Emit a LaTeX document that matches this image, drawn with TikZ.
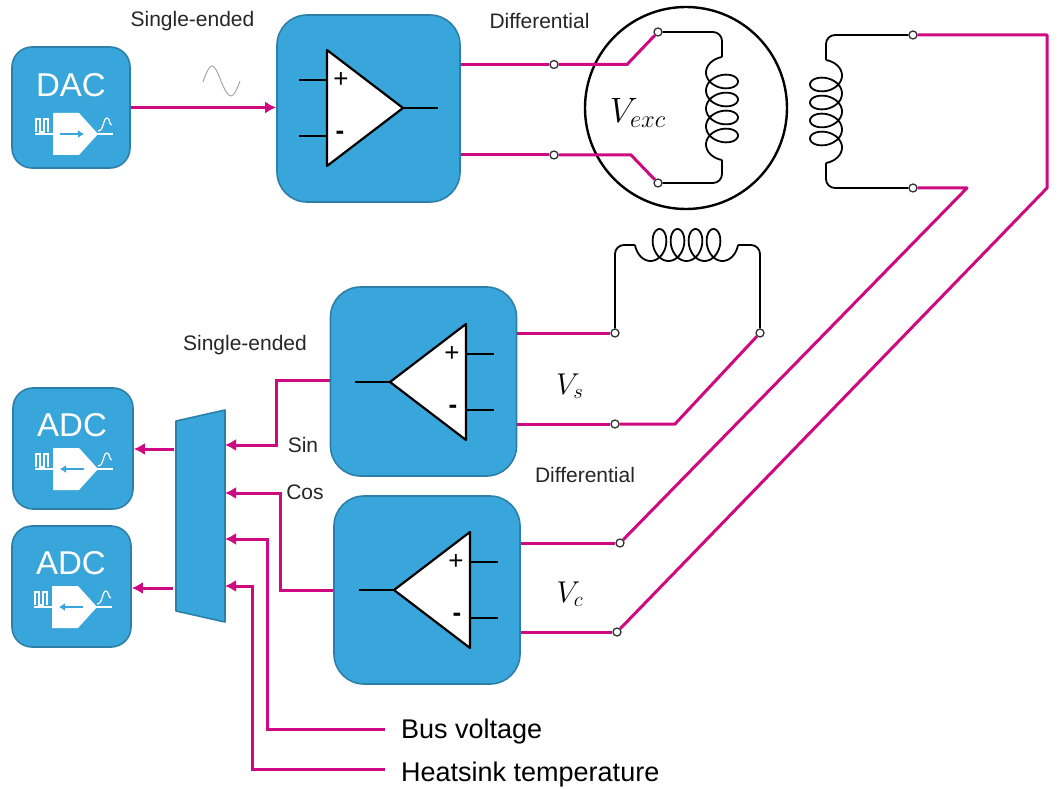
\documentclass[tikz,border=0pt]{standalone}
\usepackage{fontspec}
\setmainfont{Liberation Sans}
\usetikzlibrary{arrows.meta,calc}

\definecolor{boxblue}{HTML}{38A6DB}
\definecolor{boxedge}{HTML}{2E7FA8}
\definecolor{sigpink}{HTML}{CF0A80}

\tikzset{
    block/.style={draw=boxedge, fill=boxblue, line width=1.6pt, rounded corners=#1},
    block/.default=20pt,
    sig/.style={draw=sigpink, line width=3pt},
    sigarrow/.style={sig, -{Latex[length=11pt,width=12pt]}},
    wire/.style={draw=black, line width=1.8pt, rounded corners=9pt},
    term/.style={circle, draw=black!80, fill=white, line width=1.3pt, inner sep=0pt, minimum size=8pt},
    lbl/.style={font=\fontsize{21}{23}\selectfont, text=black!85, inner sep=0pt},
    biglbl/.style={font=\fontsize{20}{22}\selectfont, inner sep=0pt},
    longlbl/.style={anchor=base west, font=\fontsize{27}{29}\selectfont, inner sep=0pt},
    conv/.style={font=\fontsize{33}{35}\selectfont, text=white, inner sep=0pt},
    coil/.pic={
        \draw[black, line width=1.8pt] plot[smooth, samples=170, domain=270:1890]
            ({(\x-270)/20+11*(sin(\x)+1)}, {16*cos(\x)});
    },
    opamp/.pic={
        \draw[black, line width=2.2pt, fill=white, line join=round] (0,-58) -- (76,0) -- (0,58) -- cycle;
        \draw[black, line width=2pt] (-28,-28) -- (0,-28) (-28,28) -- (0,28) (76,0) -- (111,0);
        \node[font=\fontsize{26}{28}\selectfont, inner sep=0pt] (-plus) at (14,-28) {+};
        \node[font=\bfseries\fontsize{26}{28}\selectfont, inner sep=0pt] (-minus) at (13,27) {-};
    },
    converter/.pic={
        \fill[white] (0,-21) -- (26,-21) -- (45,0) -- (26,21) -- (0,21) -- cycle;
        \draw[white, line width=1.3pt] (-18,0) -- (60,0);
        \draw[white, line width=1.1pt] (-17,-2) -- (-17,-15) -- (-13,-15) -- (-13,-2) -- (-9,-2) -- (-9,-15) -- (-5,-15) -- (-5,-2);
        \draw[white, line width=1.2pt] (45,-3) .. controls (51,-3) and (50,-16) .. (54,-16) .. controls (57,-16) and (56,-9) .. (59,-9);
        \draw[boxblue, line width=2.2pt, #1] (7,0) -- (31,0);
    },
}

\begin{document}
\begin{tikzpicture}[x=1pt, y=-1pt]
    \useasboundingbox (0,0) rectangle (1061,789);

    % Blocks
    \node[block=20pt, minimum width=118pt, minimum height=121pt] (dac) at (71,107.5) {};
    \node[block=30pt, minimum width=183pt, minimum height=187pt] (drvexc) at (368.5,108.5) {};
    \node[block=30pt, minimum width=186pt, minimum height=189pt] (ampsin) at (423.5,381.5) {};
    \node[block=30pt, minimum width=186pt, minimum height=188pt] (ampcos) at (427,590) {};
    \node[block=20pt, minimum width=120pt, minimum height=121pt] (adca) at (73,448.5) {};
    \node[block=20pt, minimum width=119pt, minimum height=121pt] (adcb) at (71.5,586.5) {};
    \draw[block=0pt, line join=round] (176,421) -- (225,410) -- (225,622) -- (176,611) -- cycle;

    % Converter texts and icons
    \node[conv] (dactext) at (71,85) {DAC};
    \node[conv] (adcatext) at (72,425) {ADC};
    \node[conv] (adcbtext) at (71,563) {ADC};
    \pic at (53,134) {converter={-{Latex[length=6pt,width=8pt]}}};
    \pic at (53,469) {converter={{Latex[length=6pt,width=8pt]}-}};
    \pic at (52,607) {converter={{Latex[length=6pt,width=8pt]}-}};

    % Op-amps
    \pic (opexc) at (327,108) {opamp};
    \pic[xscale=-1] (opsin) at (466,382) {opamp};
    \pic[xscale=-1] (opcos) at (470,590) {opamp};

    % Motor
    \node[circle, draw=black, line width=2.4pt, minimum size=202pt, inner sep=0pt] (motor) at (686,108) {};
    \node[biglbl, scale=1.7] (vexc) at (638,113) {$V_{exc}$};
    \node[biglbl, scale=1.45] (vs) at (570,386) {$V_s$};
    \node[biglbl, scale=1.45] (vc) at (570,594) {$V_c$};

    % Terminals
    \node[term] (texca) at (554,64.5) {};
    \node[term] (texcb) at (554,155) {};
    \node[term] (tcoila) at (658,32) {};
    \node[term] (tcoilb) at (658,183) {};
    \node[term] (tcosa) at (913,35) {};
    \node[term] (tcosb) at (913,188) {};
    \node[term] (tsina) at (615,333) {};
    \node[term] (tsinb) at (760,333) {};
    \node[term] (tsinc) at (615,424) {};
    \node[term] (tcosc) at (620,543) {};
    \node[term] (tcosd) at (617,632) {};

    % Coils
    \coordinate (exctop) at (722,57);
    \coordinate (excbot) at (722,160);
    \coordinate (costop) at (826,60);
    \coordinate (cosbot) at (826,163);
    \coordinate (sinleft) at (635,245);
    \coordinate (sinright) at (738,245);
    \pic[rotate=-90] at (exctop) {coil};
    \pic[rotate=-90, yscale=-1] at (costop) {coil};
    \pic at (sinleft) {coil};
    \draw[wire] (tcoila) -| (exctop);
    \draw[wire] (tcoilb) -| (excbot);
    \draw[wire] (tcosa) -| (costop);
    \draw[wire] (tcosb) -| (cosbot);
    \draw[wire] (tsina) |- (sinleft);
    \draw[wire] (tsinb) |- (sinright);

    % Excitation path
    \draw[sigarrow] (dac.east) -- (dac.east -| drvexc.west);
    \draw[gray!70, line width=1pt] (203,82) sin (212,66) cos (221,81) sin (231,96) cos (240,81);
    \coordinate (kneea) at (627,64.5);
    \coordinate (kneeb) at (631,155);
    \draw[sig] (drvexc.east |- texca) -- (texca);
    \draw[sig] (texca) -- (kneea) -- (tcoila);
    \draw[sig] (drvexc.east |- texcb) -- (texcb);
    \draw[sig] (texcb) -- (kneeb) -- (tcoilb);

    % Sin path
    \coordinate (kneesin) at (675,424);
    \draw[sig] (ampsin.east |- tsina) -- (tsina);
    \draw[sig] (ampsin.east |- tsinc) -- (tsinc);
    \draw[sig] (tsinc) -- (kneesin) -- (tsinb);

    % Cos path
    \coordinate (kneecosa) at (967,188);
    \coordinate (kneecosb) at (1047,35);
    \coordinate (kneecosc) at (1047,188);
    \draw[sig] (ampcos.east |- tcosc) -- (tcosc);
    \draw[sig] (ampcos.east |- tcosd) -- (tcosd);
    \draw[sig, line join=round] (tcosb) -- (kneecosa) -- (tcosc);
    \draw[sig, line join=round] (tcosa) -- (kneecosb) -- (kneecosc) -- (tcosd);

    % Mux inputs and outputs
    \coordinate (muxsin) at (225,445);
    \coordinate (muxcos) at (225,493);
    \coordinate (muxbus) at (225,539);
    \coordinate (muxheat) at (225,586);
    \coordinate (muxouta) at (174,449);
    \coordinate (muxoutb) at (173,588);
    \coordinate (sinbend) at (276,380);
    \coordinate (cosbend) at (280,590);
    \draw[sigarrow] (ampsin.west |- sinbend) -- (sinbend) |- (muxsin);
    \draw[sigarrow] (ampcos.west) -- (cosbend) |- (muxcos);
    \node[longlbl] (busvolt) at (401,738) {Bus voltage};
    \node[longlbl] (heatsink) at (401,781) {Heatsink temperature};
    \coordinate (busend) at (385,729);
    \coordinate (heatend) at (385,769);
    \draw[sigarrow] (busend) -| (267,539) -- (muxbus);
    \draw[sigarrow] (heatend) -| (252,586) -- (muxheat);
    \draw[sigarrow] (muxouta) -- (muxouta -| adca.east);
    \draw[sigarrow] (muxoutb) -- (muxoutb -| adcb.east);

    % Labels
    \node[lbl] (seup) at (192.5,21) {Single-ended};
    \node[lbl] (diffup) at (539.5,21) {Differential};
    \node[lbl] (selow) at (245,345) {Single-ended};
    \node[lbl] (difflow) at (585,475) {Differential};
    \node[lbl] (sinlbl) at (303,445) {Sin};
    \node[lbl] (coslbl) at (305,492) {Cos};
\end{tikzpicture}
\end{document}
